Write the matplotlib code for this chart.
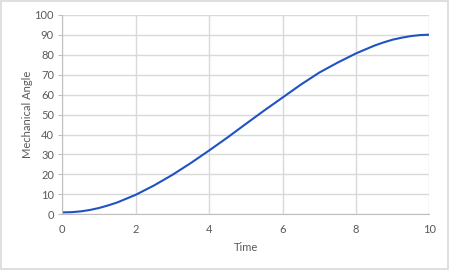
import matplotlib
matplotlib.use('Agg')

import numpy as np
import matplotlib.pyplot as plt
from matplotlib.patches import Rectangle

# Values
time = [0, 0.25, 0.5, 0.75, 1, 1.25, 1.5, 2, 2.5, 3, 3.5, 4, 4.5, 5,
        5.5, 6, 6.5, 7, 7.5, 8, 8.5, 8.75, 9, 9.25, 9.5, 9.75, 10]
angle = [1.0, 1.1, 1.5, 2.2, 3.2, 4.5, 6.0, 9.8, 14.5, 19.8, 25.7, 32.0, 38.5, 45.3,
         52.0, 58.5, 65.0, 71.0, 76.0, 80.6, 84.5, 86.1, 87.5, 88.5, 89.3, 89.8, 90.0]

x_ticks = [0, 2, 4, 6, 8, 10]
y_ticks = [0, 10, 20, 30, 40, 50, 60, 70, 80, 90, 100]

text_color = '#595959'
grid_color = '#d9d9d9'

plt.rcParams['font.family'] = ['Lato', 'DejaVu Sans']

fig = plt.figure(figsize=(4.5, 2.7), dpi=100)
ax = fig.add_axes([0.1385, 0.206, 0.8155, 0.7395])

# Curve
ax.plot(time, angle, color='#2052c2', linewidth=1.5, solid_capstyle='round',
        solid_joinstyle='round')

ax.set_xlim(0, 10)
ax.set_ylim(0, 100)
ax.set_xticks(x_ticks)
ax.set_yticks(y_ticks)

# Grid and frame
ax.grid(True, color=grid_color, linewidth=1)
ax.set_axisbelow(True)
for side in ['top', 'right']:
    ax.spines[side].set_visible(False)
ax.spines['left'].set_color('#bfbfbf')
ax.spines['bottom'].set_color('#bfbfbf')

ax.tick_params(axis='y', length=3, color='#bfbfbf', labelsize=8,
               labelcolor=text_color, pad=3)
ax.tick_params(axis='x', length=0, labelsize=8, labelcolor=text_color, pad=7)

ax.set_xlabel('Time', fontsize=8, color=text_color, labelpad=5)
ax.set_ylabel('Mechanical Angle', fontsize=8, color=text_color, labelpad=1)

# Light border around the chart
fig.patches.append(Rectangle((0.002, 0.004), 0.994, 0.992, transform=fig.transFigure,
                             fill=False, edgecolor='#d9d9d9', linewidth=1.2))

fig.savefig('out.png', dpi=100)
plt.close(fig)
